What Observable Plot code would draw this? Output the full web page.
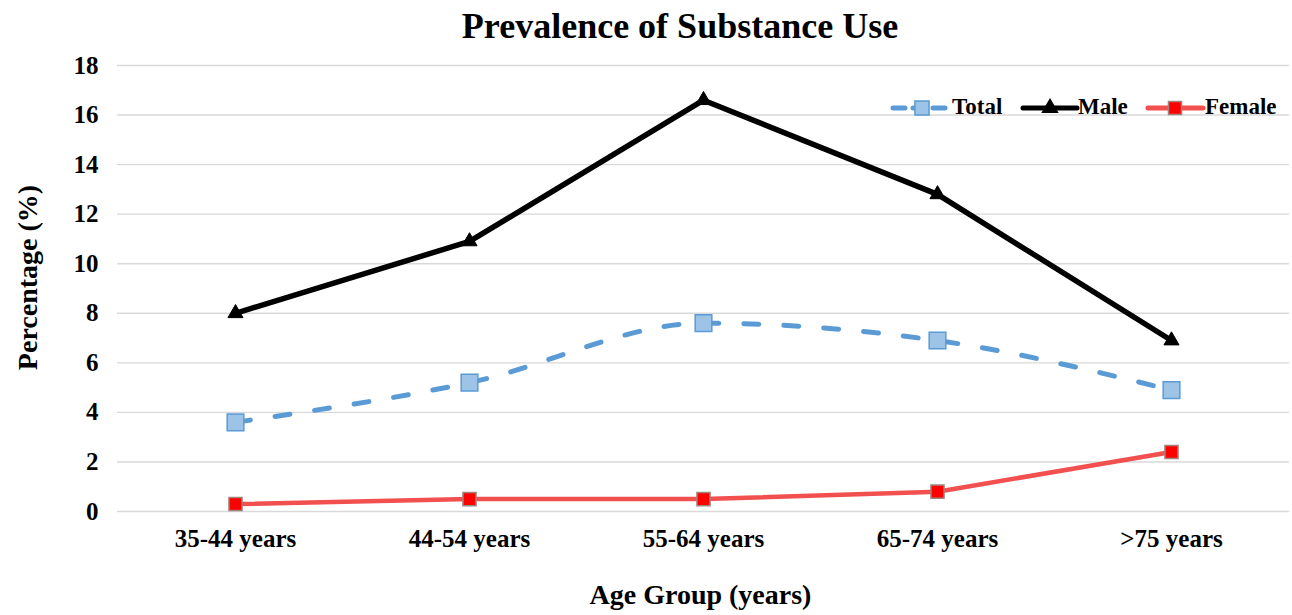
<!DOCTYPE html>
<html>
<head>
<meta charset="utf-8">
<script src="https://cdn.jsdelivr.net/npm/d3@7"></script>
<script src="https://cdn.jsdelivr.net/npm/@observablehq/plot@0.6"></script>
<style>
  html, body { margin: 0; padding: 0; background: #fff; }
  #wrap { position: relative; width: 1292px; height: 615px; overflow: hidden; font-family: "Liberation Serif", "Times New Roman", serif; font-weight: bold; }
  #title { position: absolute; top: 0; left: 68px; width: 1224px; text-align: center; font-size: 36px; line-height: 52px; color: #000; }
  #chart { position: absolute; top: 50px; left: 0; }
  #legend { position: absolute; top: 0; left: 0; }
</style>
</head>
<body>
<div id="wrap">
  <div id="title">Prevalence of Substance Use</div>
  <div id="chart"></div>
  <svg id="legend" width="1292" height="140"></svg>
</div>
<script>
const ageGroups = ["35-44 years", "44-54 years", "55-64 years", "65-74 years", ">75 years"];
const totalValues = [3.6, 5.2, 7.6, 6.9, 4.9];
const maleValues = [8.0, 10.9, 16.6, 12.8, 6.9];
const femaleValues = [0.3, 0.5, 0.5, 0.8, 2.4];
const yTicks = [0, 2, 4, 6, 8, 10, 12, 14, 16, 18];
const seriesNames = ["Total", "Male", "Female"];

const total = ageGroups.map((g, i) => ({group: g, value: totalValues[i]}));
const male = ageGroups.map((g, i) => ({group: g, value: maleValues[i]}));
const female = ageGroups.map((g, i) => ({group: g, value: femaleValues[i]}));

const font = '"Liberation Serif", "Times New Roman", serif';

const plot = Plot.plot({
  width: 1292,
  height: 565,
  marginLeft: 117,
  marginRight: 3,
  marginTop: 15,
  marginBottom: 104,
  style: {fontFamily: font, fontWeight: "bold", color: "#000", background: "transparent", overflow: "visible"},
  x: {type: "band", domain: ageGroups, padding: 0},
  y: {domain: [0, 18]},
  marks: [
    Plot.ruleY(yTicks, {stroke: "#D9D9D9", strokeWidth: 1.4}),
    Plot.axisY(yTicks, {tickSize: 0, tickPadding: 19, fontSize: 25, fontWeight: "bold", label: null}),
    Plot.axisX({tickSize: 0, tickPadding: 18, fontSize: 25, fontWeight: "bold", label: null}),
    Plot.text(["Percentage (%)"], {frameAnchor: "left", rotate: -90, dx: -89, dy: -11, fontSize: 28, fontWeight: "bold", textAnchor: "middle", lineAnchor: "middle"}),
    Plot.text(["Age Group (years)"], {frameAnchor: "bottom", dx: -3, dy: 73, fontSize: 28, fontWeight: "bold", lineAnchor: "top"}),
    Plot.line(female, {x: "group", y: "value", stroke: "#F24F4F", strokeWidth: 4.5}),
    Plot.dot(female, {x: "group", y: "value", symbol: "square", r: 7.4, fill: "#FF0000", stroke: "#A0857F", strokeWidth: 1.5}),
    Plot.line(total, {x: "group", y: "value", stroke: "#5B9BD5", strokeWidth: 5, strokeDasharray: "15,25", strokeLinecap: "round", curve: "monotone-x"}),
    Plot.dot(total, {x: "group", y: "value", symbol: "square", r: 9.4, fill: "#9DC3E6", stroke: "#5B9BD5", strokeWidth: 1.5}),
    Plot.line(male, {x: "group", y: "value", stroke: "#000", strokeWidth: 5.5}),
    Plot.dot(male, {x: "group", y: "value", symbol: "triangle", r: 5.6, fill: "#000", stroke: "#000", strokeWidth: 1})
  ]
});
document.getElementById("chart").appendChild(plot);

// Legend (page coordinates)
const lg = d3.select("#legend");
const ly = 108;
const items = [
  {name: seriesNames[0], x0: 893, x1: 948, mx: 922, tx: 952, stroke: "#5B9BD5", dash: "12,8", sym: d3.symbolSquare, size: 200, fill: "#9DC3E6", mstroke: "#5B9BD5"},
  {name: seriesNames[1], x0: 1023, x1: 1077, mx: 1050, tx: 1078, stroke: "#000", dash: null, sym: d3.symbolTriangle, size: 95, fill: "#000", mstroke: "#000"},
  {name: seriesNames[2], x0: 1148, x1: 1203, mx: 1175, tx: 1205, stroke: "#F24F4F", dash: null, sym: d3.symbolSquare, size: 170, fill: "#FF0000", mstroke: "#A0857F"}
];
for (const it of items) {
  const l = lg.append("line").attr("x1", it.x0).attr("x2", it.x1).attr("y1", ly).attr("y2", ly)
    .attr("stroke", it.stroke).attr("stroke-width", 5).attr("stroke-linecap", "round");
  if (it.dash) l.attr("stroke-dasharray", it.dash);
  lg.append("path").attr("d", d3.symbol(it.sym, it.size)()).attr("transform", `translate(${it.mx},${ly})`)
    .attr("fill", it.fill).attr("stroke", it.mstroke).attr("stroke-width", 1.5);
  lg.append("text").attr("x", it.tx).attr("y", 114).attr("font-size", 23).attr("font-weight", "bold")
    .attr("font-family", font).attr("fill", "#000").text(it.name);
}
</script>
</body>
</html>
